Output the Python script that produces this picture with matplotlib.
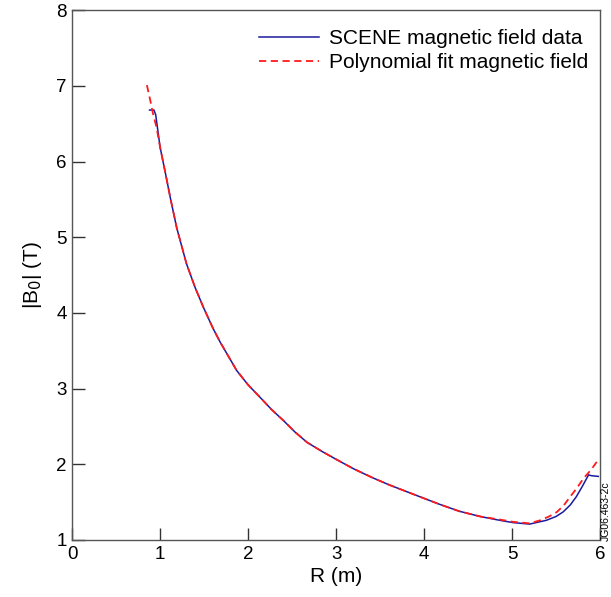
import matplotlib.pyplot as plt

plt.rcParams['font.family'] = ['Liberation Sans', 'DejaVu Sans']

# SCENE magnetic field data
r_data = [0.88, 0.93, 0.95, 1.00, 1.06, 1.12, 1.19, 1.30, 1.40, 1.49, 1.60, 1.68,
          1.78, 1.87, 2.00, 2.14, 2.27, 2.40, 2.53, 2.67, 2.84, 3.01, 3.20, 3.42,
          3.60, 3.80, 4.00, 4.18, 4.40, 4.64, 4.86, 5.01, 5.20, 5.39, 5.50, 5.58,
          5.66, 5.73, 5.80, 5.87, 5.90, 5.98]
b_data = [6.68, 6.68, 6.62, 6.19, 5.85, 5.50, 5.12, 4.65, 4.33, 4.08, 3.80, 3.62,
          3.42, 3.24, 3.05, 2.88, 2.72, 2.58, 2.43, 2.29, 2.17, 2.06, 1.94, 1.82,
          1.73, 1.64, 1.55, 1.47, 1.38, 1.31, 1.26, 1.23, 1.21, 1.26, 1.31, 1.37,
          1.46, 1.57, 1.71, 1.86, 1.85, 1.84]

# polynomial fit
r_fit = [0.85, 0.89, 0.92, 0.96, 1.00, 1.06, 1.12, 1.19, 1.30, 1.40, 1.49, 1.60,
         1.68, 1.78, 1.87, 2.00, 2.14, 2.27, 2.40, 2.53, 2.67, 2.84, 3.01, 3.20,
         3.42, 3.60, 3.80, 4.00, 4.18, 4.40, 4.64, 4.86, 5.01, 5.20, 5.32, 5.42,
         5.51, 5.59, 5.66, 5.74, 5.81, 5.90, 5.98]
b_fit = [7.01, 6.80, 6.63, 6.45, 6.19, 5.85, 5.50, 5.12, 4.65, 4.33, 4.08, 3.80,
         3.62, 3.42, 3.24, 3.05, 2.88, 2.72, 2.58, 2.43, 2.29, 2.17, 2.06, 1.94,
         1.82, 1.73, 1.64, 1.55, 1.47, 1.38, 1.31, 1.27, 1.24, 1.22, 1.26, 1.31,
         1.37, 1.46, 1.57, 1.69, 1.81, 1.93, 2.06]

fig = plt.figure(figsize=(6.11, 5.97), dpi=100)
ax = fig.add_axes([0.118, 0.0955, 0.864, 0.8875])

ax.plot(r_data, b_data, color='#1a1aa0', lw=1.1, label='SCENE magnetic field data',
        solid_joinstyle='miter')
ax.plot(r_fit, b_fit, color='#ff1a1a', lw=1.3, ls=(0, (4, 2.5)),
        label='Polynomial fit magnetic field')

ax.set_xlim(0, 6)
ax.set_ylim(1, 8)
ax.set_xticks(range(0, 7))
ax.set_yticks(range(1, 9))
ax.tick_params(direction='in', length=9, width=1, labelsize=13.5, color='#333333', pad=4)
for s in ax.spines.values():
    s.set_color('#555555')
    s.set_linewidth(1)

ax.set_xlabel('R (m)', fontsize=15, labelpad=3)
ax.set_ylabel('|B$_0$| (T)', fontsize=15, labelpad=9)

ax.legend(loc='upper right', bbox_to_anchor=(0.982, 0.968), frameon=False, fontsize=15,
          handlelength=2.85, handletextpad=0.5, borderaxespad=0, borderpad=0.1,
          labelspacing=0.25)

fig.text(0.9835, 0.093, 'JG06.463-2c', rotation=90, ha='left', va='bottom', fontsize=7.5)

fig.savefig('out.png', dpi=100)
